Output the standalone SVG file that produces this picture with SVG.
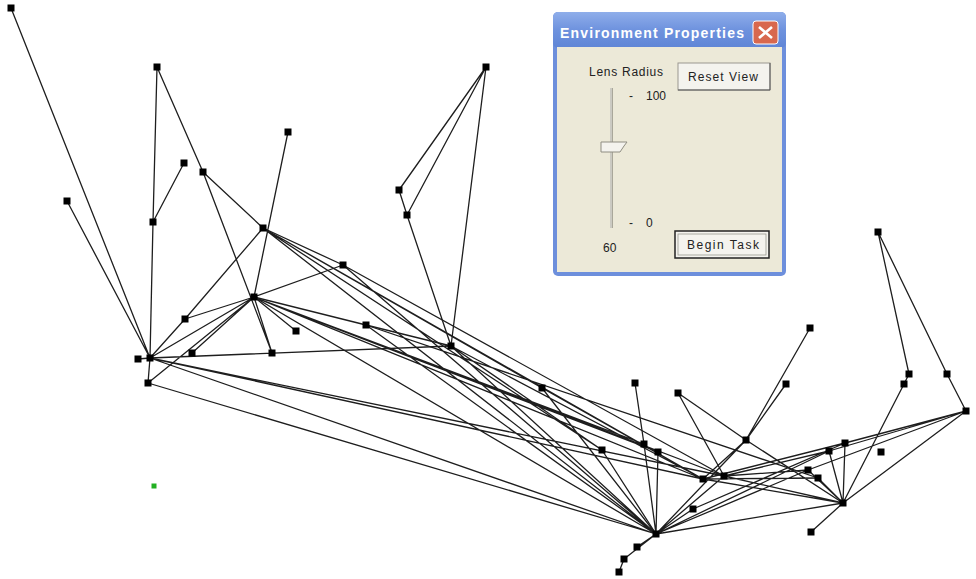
<svg xmlns="http://www.w3.org/2000/svg" width="976" height="579" viewBox="0 0 976 579">
<defs>
<style>
.e{stroke:#1e1e1e;stroke-width:1.3;fill:none}
.n{fill:#000}
.t{font-family:"Liberation Sans",Arial,sans-serif;font-size:12px;fill:#222}
</style>
<linearGradient id="tb" x1="0" y1="0" x2="0" y2="1">
<stop offset="0" stop-color="#8FAEEA"/>
<stop offset="0.5" stop-color="#6E92DE"/>
<stop offset="1" stop-color="#5F85D6"/>
</linearGradient>
<rect id="sq" x="-3.5" y="-3.5" width="7" height="7"/>
</defs>
<rect width="976" height="579" fill="#fff"/>
<g id="connectors">
<path class="e" d="M11 8L150 358M67 201L150 358M157 67L153 222M153 222L150 358M184 163L153 222M157 67L203 172M203 172L263 228M203 172L272 353M288 132L254 297M263 228L185 319M185 319L150 358M185 319L254 297M150 358L254 297M192 353L254 297M148 383L254 297M150 358L451 346M150 358L148 383M138 359L150 358M254 297L343 265M254 297L296 331M254 297L272 353M254 297L366 325M366 325L451 346M486 67L451 346M486 67L399 190M486 67L407 215M399 190L407 215M407 215L451 346M263 228L343 265"/>
<path class="e" d="M263 228L542 388M263 228L703 479M263 228L602 450M263 228L656 534M254 297L656 534M254 297L703 479M254 297L724 476M254 297L658 452M254 297L644 444M343 265L656 534M343 265L724 476M366 325L656 534M366 325L818 478M150 358L703 479M150 358L724 476M150 358L656 534M148 383L656 534M451 346L602 450M451 346L703 479M451 346L656 534M542 388L656 534M542 388L703 479"/>
<path class="e" d="M635 383L644 444M644 444L656 534M658 452L656 534M602 450L656 534M656 534L637 547M656 534L624 559M624 559L619 572M678 393L746 440M678 393L724 476M656 534L746 440M656 534L724 476M656 534L693 509M693 509L845 443M656 534L829 451M656 534L843 503M656 534L808 470M810 328L746 440M786 384L746 440M746 440L703 479M746 440L843 503M703 479L845 443M724 476L829 451M703 479L818 478M724 476L808 470M703 479L843 503M724 476L843 503"/>
<path class="e" d="M878 232L909 374M878 232L947 374M947 374L966 411M909 374L904 384M904 384L843 503M966 411L845 443M966 411L829 451M966 411L843 503M966 411L808 470M845 443L843 503M829 451L843 503M808 470L843 503M818 478L843 503M843 503L811 532"/>
</g>
<g id="nodes">
<use href="#sq" x="11" y="8"/><use href="#sq" x="157" y="67"/><use href="#sq" x="67" y="201"/><use href="#sq" x="153" y="222"/><use href="#sq" x="184" y="163"/><use href="#sq" x="203" y="172"/><use href="#sq" x="288" y="132"/><use href="#sq" x="263" y="228"/><use href="#sq" x="254" y="297"/><use href="#sq" x="185" y="319"/><use href="#sq" x="192" y="353"/><use href="#sq" x="138" y="359"/><use href="#sq" x="150" y="358"/><use href="#sq" x="148" y="383"/><use href="#sq" x="296" y="331"/><use href="#sq" x="272" y="353"/><use href="#sq" x="343" y="265"/><use href="#sq" x="366" y="325"/><use href="#sq" x="451" y="346"/><use href="#sq" x="486" y="67"/><use href="#sq" x="399" y="190"/><use href="#sq" x="407" y="215"/><use href="#sq" x="542" y="388"/><use href="#sq" x="635" y="383"/><use href="#sq" x="602" y="450"/><use href="#sq" x="644" y="444"/><use href="#sq" x="658" y="452"/><use href="#sq" x="678" y="393"/><use href="#sq" x="656" y="534"/><use href="#sq" x="637" y="547"/><use href="#sq" x="624" y="559"/><use href="#sq" x="619" y="572"/><use href="#sq" x="693" y="509"/><use href="#sq" x="746" y="440"/><use href="#sq" x="786" y="384"/><use href="#sq" x="810" y="328"/><use href="#sq" x="703" y="479"/><use href="#sq" x="724" y="476"/><use href="#sq" x="808" y="470"/><use href="#sq" x="818" y="478"/><use href="#sq" x="829" y="451"/><use href="#sq" x="845" y="443"/><use href="#sq" x="843" y="503"/><use href="#sq" x="881" y="452"/><use href="#sq" x="811" y="532"/><use href="#sq" x="878" y="232"/><use href="#sq" x="909" y="374"/><use href="#sq" x="904" y="384"/><use href="#sq" x="947" y="374"/><use href="#sq" x="966" y="411"/>
<rect x="151.5" y="483.5" width="5" height="5" fill="#22b022"/>
</g>
<g id="dialog">
<rect x="553" y="12" width="233" height="264" rx="5" fill="#6D8FDC"/>
<rect x="553" y="12" width="233" height="36" rx="5" fill="url(#tb)"/>
<rect x="557" y="47" width="225" height="225" fill="#ECE9D8"/>
<text x="560" y="38" font-family="'Liberation Sans',Arial,sans-serif" font-size="14" font-weight="bold" fill="#fff" textLength="184">Environment Properties</text>
<rect x="753" y="21" width="25" height="23" rx="3" fill="#D8684E" stroke="#fff" stroke-width="1"/>
<path d="M759 27L772 38M772 27L759 38" stroke="#fff" stroke-width="2.6"/>
<text class="t" x="589" y="76" textLength="74">Lens Radius</text>
<rect x="678" y="63" width="92" height="27" fill="#F4F3EE" stroke="#9a9890"/>
<path d="M678 90H770V63" stroke="#555" fill="none"/>
<text class="t" x="688" y="81" textLength="70">Reset View</text>
<rect x="610" y="88" width="3" height="140" fill="#A9A79A"/>
<path d="M611 88V228" stroke="#fff" stroke-width="0.8"/>
<path d="M601 142H627L624 146L620 152H601Z" fill="#F4F3EE" stroke="#8f8d82"/>
<text class="t" x="629" y="100">-</text>
<text class="t" x="646" y="100">100</text>
<text class="t" x="629" y="227">-</text>
<text class="t" x="646" y="227">0</text>
<text class="t" x="603" y="252">60</text>
<rect x="675" y="231" width="94" height="27" fill="#F4F3EE" stroke="#222" stroke-width="1.5"/>
<rect x="678" y="234" width="88" height="21" fill="none" stroke="#9a9890" stroke-width="0.8"/>
<text class="t" x="687" y="249" textLength="72">Begin Task</text>
</g>
</svg>
